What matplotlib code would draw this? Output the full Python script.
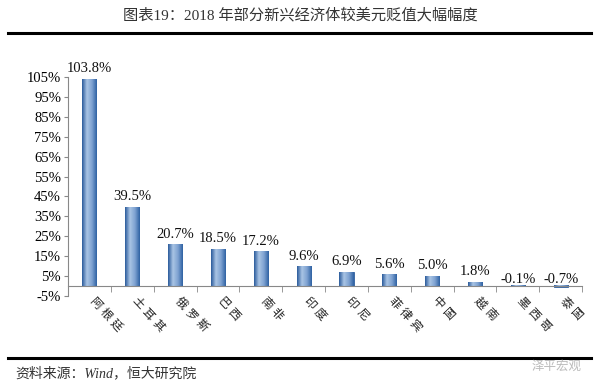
import numpy as np
import matplotlib.pyplot as plt
from matplotlib.colors import LinearSegmentedColormap
from matplotlib.lines import Line2D
from matplotlib.ticker import FixedLocator

# 数据
countries = ['阿根廷', '土耳其', '俄罗斯', '巴西', '南非', '印度', '印尼', '菲律宾', '中国', '越南', '墨西哥', '泰国']
values = [103.8, 39.5, 20.7, 18.5, 17.2, 9.6, 6.9, 5.6, 5.0, 1.8, -0.1, -0.7]
yticks = [-5, 5, 15, 25, 35, 45, 55, 65, 75, 85, 95, 105]

serif = ['Liberation Serif', 'Noto Sans CJK SC']
cjk = ['Noto Sans CJK SC', 'DejaVu Sans']

fig = plt.figure(figsize=(6, 3.89), dpi=100)
ax = fig.add_axes([0.1133, 0.239, 0.857, 0.563])

x = np.arange(len(countries))
bars = ax.bar(x, values, width=0.33, color='#4a7fbf', edgecolor='#2f5f9e',
              linewidth=0.6, zorder=2)

# 柱子渐变
cmap = LinearSegmentedColormap.from_list('cyl', ['#2b5c9c', '#a9c4e4', '#7fa3d2', '#2f62a3'])
grad = np.linspace(0, 1, 64).reshape(1, -1)
for b in bars:
    x0 = b.get_x()
    w = b.get_width()
    h = b.get_height()
    ax.imshow(grad, cmap=cmap, aspect='auto', zorder=2.5,
              extent=[x0, x0 + w, min(0, h), max(0, h)])

for xi, v in zip(x, values):
    off = 3 if v >= 0 else 0
    ax.annotate(f'{v:.1f}%', (xi, max(v, 0)), xytext=(0, off), textcoords='offset points',
                ha='center', va='bottom', fontsize=10.5, family=serif, color='#111111')

ax.set_xlim(-0.5, len(countries) - 0.5)
ax.set_ylim(-5, 105)

ax.spines['top'].set_visible(False)
ax.spines['right'].set_visible(False)
ax.spines['left'].set_color('#888888')
ax.spines['bottom'].set_color('#888888')
ax.spines['bottom'].set_position(('data', 0))

ax.set_yticks(yticks)
ax.set_yticklabels([f'{t}%' for t in yticks], family=serif, fontsize=10.5)
ax.tick_params(axis='y', length=3, color='#888888', pad=2)

ax.set_xticks(x)
ax.set_xticklabels([])
ax.tick_params(axis='x', which='major', length=0)
ax.xaxis.set_minor_locator(FixedLocator(np.arange(-0.5, len(countries), 1.0)))
ax.tick_params(axis='x', which='minor', length=4, color='#888888')

# 斜排类别标签，逐字排放
ang = np.deg2rad(47)
step = 11.0  # points between characters
for xi, name in zip(x, countries):
    for k, ch in enumerate(name):
        ax.annotate(ch, (xi, 0), xytext=(4 + k * step * np.cos(ang), -12 - k * step * np.sin(ang)),
                    textcoords='offset points', rotation=-47, ha='center', va='center',
                    fontsize=8.5, family=cjk, color='#222222', annotation_clip=False)

# 标题与线条
fig.text(0.5, 0.962, '图表19：2018 年部分新兴经济体较美元贬值大幅幅度', ha='center', va='center',
         fontsize=11, family=serif, color='#333333')
fig.add_artist(Line2D([0.013, 0.985], [0.915, 0.915], color='black', linewidth=2.2,
                      transform=fig.transFigure))
fig.add_artist(Line2D([0.013, 0.985], [0.080, 0.080], color='black', linewidth=2.2,
                      transform=fig.transFigure))
fig.text(0.025, 0.040, '资料来源：Wind，恒大研究院', ha='left', va='center',
         fontsize=10, family=serif, style='italic', color='#333333')
fig.text(0.97, 0.058, '泽平宏观', ha='right', va='center', fontsize=9,
         family=cjk, color='#bbbbbb')

fig.savefig('out.png', dpi=100)
